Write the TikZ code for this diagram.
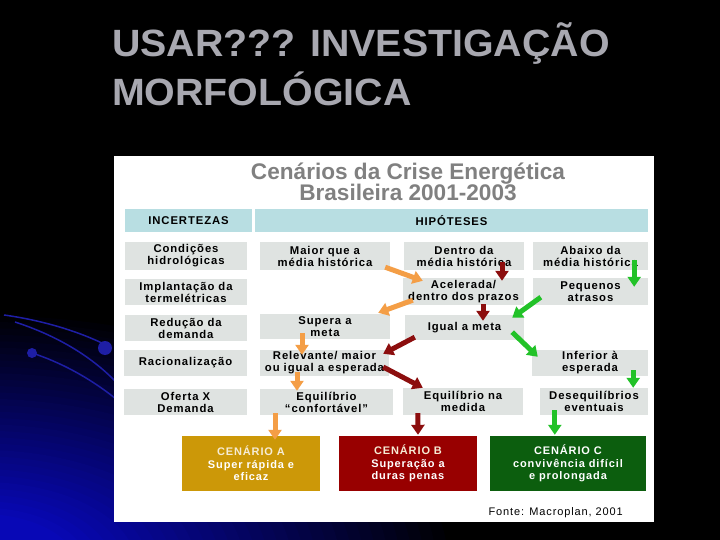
\documentclass[tikz,border=0pt]{standalone}
\usepackage{fontspec}
\setmainfont{Liberation Sans}
\newfontfamily\bxfont[LetterSpace=8]{Liberation Sans}
\usetikzlibrary{arrows.meta,calc}
\definecolor{bgblue}{RGB}{8,8,182}
\definecolor{decoblue}{RGB}{30,30,165}
\definecolor{titlegray}{RGB}{168,168,176}
\definecolor{panelgray}{RGB}{128,128,128}
\definecolor{hdrblue}{RGB}{184,222,226}
\definecolor{boxgray}{RGB}{223,227,225}
\definecolor{arrOr}{RGB}{244,158,70}
\definecolor{arrRd}{RGB}{140,14,14}
\definecolor{arrGr}{RGB}{34,194,40}
\definecolor{scA}{RGB}{204,152,8}
\definecolor{scB}{RGB}{152,0,0}
\definecolor{scC}{RGB}{12,94,14}
\definecolor{cream}{RGB}{246,236,214}
\begin{document}
\begin{tikzpicture}[x=1pt,y=-1pt,
  box/.style={fill=boxgray, inner sep=0pt, align=center, text=black,
    font=\bxfont\bfseries\fontsize{11.3}{12}\selectfont},
  hdr/.style={box, fill=hdrblue},
  scen/.style={inner sep=0pt, align=center, text=white, minimum width=138pt, minimum height=55pt,
    font=\bxfont\bfseries\fontsize{11}{12.5}\selectfont},
  blockarrow/.style={line width=5pt, -{Triangle[width=13pt,length=10pt]}},
  oarr/.style={blockarrow, draw=arrOr},
  rarr/.style={blockarrow, draw=arrRd},
  garr/.style={blockarrow, draw=arrGr},
  slidetitle/.style={anchor=base west, inner sep=0pt, text=titlegray, font=\bfseries\fontsize{38}{38}\selectfont}]
\useasboundingbox (0,0) rectangle (720,540);
% background
\fill[black] (0,0) rectangle (720,540);
\begin{scope}
  \clip (0,0) rectangle (720,540);
  \foreach \i in {40,39,...,8} {
    \pgfmathsetmacro\p{(40-\i)*3.125}
    \pgfmathsetmacro\rx{12*\i}
    \pgfmathsetmacro\ry{6.4*\i}
    \fill[bgblue!\p!black] (-20,565) ellipse [x radius=\rx, y radius=\ry];
  }
  \draw[decoblue, line width=1.5pt] (4,315) .. controls (40,320) and (75,330) .. (104,344);
  \draw[decoblue, line width=1.5pt] (15,322) .. controls (55,335) and (90,355) .. (116,382);
  \draw[decoblue, line width=1.5pt] (32,353) .. controls (60,362) and (90,378) .. (116,399);
  \fill[decoblue] (105,348) circle (7);
  \fill[decoblue] (32,353) circle (5);
\end{scope}
% slide title
\node[slidetitle] (tl1) at (112,57) {\scalebox{1.035}[1]{USAR??? INVESTIGAÇÃO}};
\node[slidetitle] (tl2) at (112,106) {\scalebox{1.035}[1]{MORFOLÓGICA}};
% panel
\fill[white] (114,156) rectangle (654,522);
\node[anchor=base, inner sep=0pt, text=panelgray, font=\bfseries\fontsize{22.6}{22.6}\selectfont] (pt1) at (408,180) {Cenários da Crise Energética};
\node[anchor=base, inner sep=0pt, text=panelgray, font=\bfseries\fontsize{22.6}{22.6}\selectfont] (pt2) at (408,201) {Brasileira 2001-2003};
% headers
\node[hdr, minimum width=127pt, minimum height=23pt] (inc) at (188.5,220.5) {INCERTEZAS};
\node[hdr, minimum width=393pt, minimum height=23pt] (hip) at (451.5,220.5) {HIPÓTESES};
% column 1
\node[box, minimum width=122pt, minimum height=28pt] (cond) at (186,256) {Condições\\hidrológicas};
\node[box, minimum width=122pt, minimum height=26pt] (impl) at (186,292) {Implantação da\\termelétricas};
\node[box, minimum width=122pt, minimum height=26pt] (red) at (186,328) {Redução da\\demanda};
\node[box, minimum width=123pt, minimum height=26pt] (rac) at (185.5,363) {Racionalização};
\node[box, minimum width=123pt, minimum height=26pt] (ofe) at (185.5,402) {Oferta X\\Demanda};
% column 2
\node[box, minimum width=130pt, minimum height=28pt] (maior) at (325,256) {Maior que a\\média histórica};
\node[box, minimum width=130pt, minimum height=25pt] (supera) at (325,326.5) {Supera a\\meta};
\node[box, minimum width=129pt, minimum height=26pt] (relev) at (324.5,363) {Relevante/ maior\\ou igual a esperada};
\node[box, minimum width=133pt, minimum height=26pt] (equiA) at (326.5,402) {Equilíbrio\\“confortável”};
% column 3
\node[box, minimum width=120pt, minimum height=28pt] (dentro) at (464,256) {Dentro da\\média histórica};
\node[box, minimum width=121pt, minimum height=27pt] (acel) at (463.5,291.5) {Acelerada/\\dentro dos prazos};
\node[box, minimum width=119pt, minimum height=25pt] (igual) at (464.5,327.5) {Igual a meta};
\node[box, minimum width=120pt, minimum height=27pt] (equiB) at (463,401.5) {Equilíbrio na\\medida};
% column 4
\node[box, minimum width=115pt, minimum height=28pt] (abaixo) at (590.5,256) {Abaixo da\\média histórica};
\node[box, minimum width=115pt, minimum height=27pt] (peq) at (590.5,291.5) {Pequenos\\atrasos};
\node[box, minimum width=116pt, minimum height=26pt] (inf) at (590,363) {Inferior à\\esperada};
\node[box, minimum width=108pt, minimum height=27pt] (deseq) at (594,401.5) {Desequilíbrios\\eventuais};
% scenarios
\node[scen, fill=scA] (A) at (251,463.5) {\textcolor{cream}{CENÁRIO A}\\Super rápida e\\eficaz};
\node[scen, fill=scB] (B) at (408,463.5) {\textcolor{cream}{CENÁRIO B}\\Superação a\\duras penas};
\node[scen, fill=scC, minimum width=156pt] (C) at (568,463.5) {CENÁRIO C\\convivência difícil\\e prolongada};
\node[anchor=east, inner sep=0pt, font=\bxfont\fontsize{11}{12}\selectfont] (fonte) at (623,513) {Fonte: Macroplan, 2001};
% orange arrows
\draw[oarr] ([shift={(-5,-3)}]maior.south east) -- ([shift={(20,3)}]acel.north west);
\draw[oarr] ([shift={(10,-5)}]acel.south west) -- ([shift={(-12,-1)}]supera.north east);
\draw[oarr] ([shift={(-23,-6)}]supera.south) -- ([shift={(-22.5,5)}]relev.north);
\draw[oarr] ([shift={(-27.5,-4)}]relev.south) -- ([shift={(-29.5,2)}]equiA.north);
\draw[oarr] ([shift={(-51.5,-2)}]equiA.south) -- ([shift={(24,4)}]A.north);
% red arrows
\draw[rarr] ([shift={(38,-8)}]dentro.south) -- ([shift={(38.5,3)}]acel.north);
\draw[rarr] ([shift={(19.5,-1)}]acel.south) -- ([shift={(18.5,6)}]igual.north);
\draw[rarr] ([shift={(10,-3)}]igual.south west) -- ([shift={(-6,4)}]relev.north east);
\draw[rarr] ([shift={(-6,4)}]relev.east) -- ([shift={(20,0)}]equiB.north west);
\draw[rarr] ([shift={(15,-2)}]equiB.south west) -- ([shift={(10,-1)}]B.north);
% green arrows
\draw[garr] ([shift={(-14,-10)}]abaixo.south east) -- ([shift={(-14,9)}]peq.north east);
\draw[garr] ([shift={(8,-8)}]peq.south west) -- ([shift={(-12,3)}]igual.north east);
\draw[garr] ([shift={(-12,-8)}]igual.south east) -- ([shift={(6,7)}]inf.north west);
\draw[garr] ([shift={(-15,-6)}]inf.south east) -- ([shift={(-15,0)}]deseq.north east);
\draw[garr] ([shift={(15,-5)}]deseq.south west) -- ([shift={(65,-1)}]C.north west);
\end{tikzpicture}
\end{document}
